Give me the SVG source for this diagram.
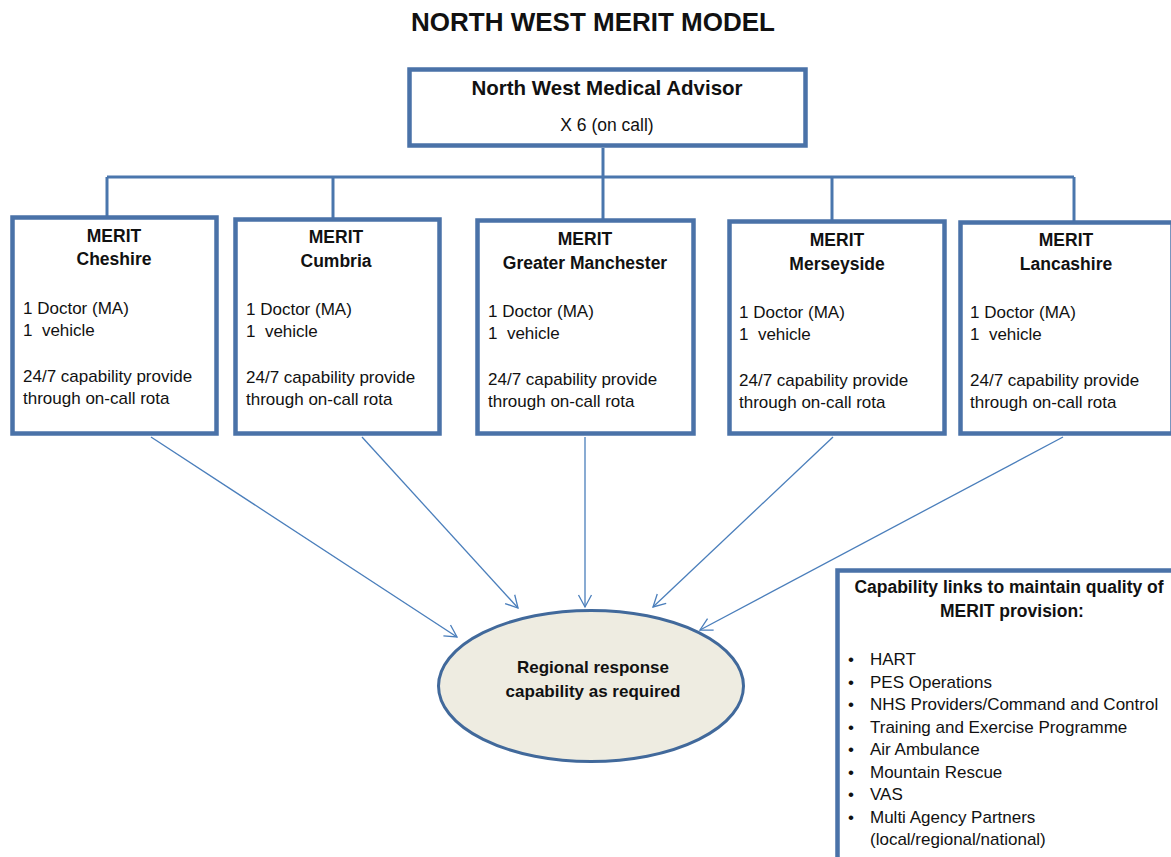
<svg xmlns="http://www.w3.org/2000/svg" width="1171" height="857" viewBox="0 0 1171 857">
<style>
  .box { fill: #ffffff; stroke: #4A72A8; stroke-width: 4.5; }
  .conn { fill: none; stroke: #4A76AD; stroke-width: 3; }
  .arrow { fill: none; stroke: #4A7EBB; stroke-width: 1.3; marker-end: url(#ah); }
  text { font-family: "Liberation Sans", Arial, sans-serif; fill: #111; }
  .title { font-size: 26px; font-weight: bold; }
  .hb { font-size: 17.5px; font-weight: bold; text-anchor: middle; }
  .body { font-size: 17px; white-space: pre; }
  .ell { fill: #EEECE1; stroke: #41699B; stroke-width: 3; }
</style>
<defs>
  <marker id="ah" markerUnits="userSpaceOnUse" markerWidth="16" markerHeight="16" refX="13" refY="8" orient="auto">
    <path d="M1,1.5 L13,8 L1,14.5" fill="none" stroke="#4A7EBB" stroke-width="1.3"/>
  </marker>
</defs>
<rect width="1171" height="857" fill="#ffffff"/>
<text class="title" x="593" y="31" text-anchor="middle">NORTH WEST MERIT MODEL</text>

<g id="connectors">
  <path class="conn" d="M603,148 V177"/>
  <path class="conn" d="M107,177 H1074"/>
  <path class="conn" d="M107,177 V216"/>
  <path class="conn" d="M333,177 V218"/>
  <path class="conn" d="M603,177 V219"/>
  <path class="conn" d="M832,177 V220"/>
  <path class="conn" d="M1074,177 V221"/>
  <line class="arrow" x1="151" y1="437" x2="457" y2="637"/>
  <line class="arrow" x1="362" y1="437" x2="518" y2="608"/>
  <line class="arrow" x1="585" y1="437" x2="585" y2="607"/>
  <line class="arrow" x1="833" y1="437" x2="653" y2="607"/>
  <line class="arrow" x1="1063" y1="437" x2="700" y2="630"/>
</g>

<g id="node-advisor">
  <rect class="box" x="409.5" y="69.5" width="396" height="76"/>
  <text class="hb" x="607" y="95" style="font-size:20.5px">North West Medical Advisor</text>
  <text x="607" y="131" text-anchor="middle" style="font-size:17.5px">X 6 (on call)</text>
</g>

<g id="node-cheshire">
  <rect class="box" x="12.5" y="217.5" width="204" height="216"/>
  <text class="hb" x="114" y="242">MERIT</text>
  <text class="hb" x="114" y="265">Cheshire</text>
  <text class="body" x="23" y="314">1 Doctor (MA)</text>
  <text class="body" x="23" y="336">1  vehicle</text>
  <text class="body" x="23" y="382">24/7 capability provide</text>
  <text class="body" x="23" y="404">through on-call rota</text>
</g>

<g id="node-cumbria">
  <rect class="box" x="235.5" y="219.5" width="204" height="214"/>
  <text class="hb" x="336" y="243">MERIT</text>
  <text class="hb" x="336" y="267">Cumbria</text>
  <text class="body" x="246" y="315">1 Doctor (MA)</text>
  <text class="body" x="246" y="337">1  vehicle</text>
  <text class="body" x="246" y="383">24/7 capability provide</text>
  <text class="body" x="246" y="405">through on-call rota</text>
</g>

<g id="node-manchester">
  <rect class="box" x="477.5" y="220.5" width="216" height="213"/>
  <text class="hb" x="585" y="245">MERIT</text>
  <text class="hb" x="585" y="269">Greater Manchester</text>
  <text class="body" x="488" y="317">1 Doctor (MA)</text>
  <text class="body" x="488" y="339">1  vehicle</text>
  <text class="body" x="488" y="385">24/7 capability provide</text>
  <text class="body" x="488" y="407">through on-call rota</text>
</g>

<g id="node-merseyside">
  <rect class="box" x="729.5" y="221.5" width="215" height="212"/>
  <text class="hb" x="837" y="246">MERIT</text>
  <text class="hb" x="837" y="270">Merseyside</text>
  <text class="body" x="739" y="318">1 Doctor (MA)</text>
  <text class="body" x="739" y="340">1  vehicle</text>
  <text class="body" x="739" y="386">24/7 capability provide</text>
  <text class="body" x="739" y="408">through on-call rota</text>
</g>

<g id="node-lancashire">
  <rect class="box" x="960.5" y="222.5" width="212" height="211"/>
  <text class="hb" x="1066" y="246">MERIT</text>
  <text class="hb" x="1066" y="270">Lancashire</text>
  <text class="body" x="970" y="318">1 Doctor (MA)</text>
  <text class="body" x="970" y="340">1  vehicle</text>
  <text class="body" x="970" y="386">24/7 capability provide</text>
  <text class="body" x="970" y="408">through on-call rota</text>
</g>

<g id="node-regional">
  <ellipse class="ell" cx="591" cy="686" rx="152.5" ry="75.5"/>
  <text class="hb" x="593" y="673" style="font-size:17px">Regional response</text>
  <text class="hb" x="593" y="697" style="font-size:17px">capability as required</text>
</g>

<g id="node-capability">
  <rect class="box" x="837.5" y="570.5" width="340" height="295"/>
  <text class="hb" x="1009" y="593">Capability links to maintain quality of</text>
  <text class="hb" x="1012" y="617">MERIT provision:</text>
  <g class="body">
    <text class="body" x="848" y="665">•</text><text class="body" x="870" y="665">HART</text>
    <text class="body" x="848" y="688">•</text><text class="body" x="870" y="688">PES Operations</text>
    <text class="body" x="848" y="710">•</text><text class="body" x="870" y="710">NHS Providers/Command and Control</text>
    <text class="body" x="848" y="733">•</text><text class="body" x="870" y="733">Training and Exercise Programme</text>
    <text class="body" x="848" y="755">•</text><text class="body" x="870" y="755">Air Ambulance</text>
    <text class="body" x="848" y="778">•</text><text class="body" x="870" y="778">Mountain Rescue</text>
    <text class="body" x="848" y="800">•</text><text class="body" x="870" y="800">VAS</text>
    <text class="body" x="848" y="823">•</text><text class="body" x="870" y="823">Multi Agency Partners</text>
    <text class="body" x="870" y="845">(local/regional/national)</text>
  </g>
</g>
</svg>
